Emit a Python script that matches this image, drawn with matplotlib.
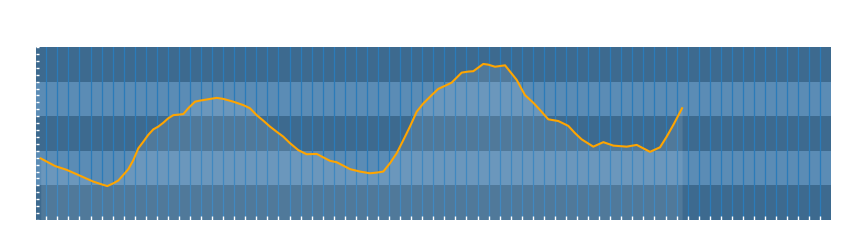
import matplotlib
matplotlib.use("Agg")
import matplotlib.pyplot as plt
import numpy as np

# Werte (x in Rasterschritten, y in Bandeinheiten)
x_vals = [-0.5, 0.79, 1.84, 3.05, 4.25, 5.01, 5.52, 6.06, 6.51, 6.96, 7.42, 7.87,
          8.32, 8.77, 9.22, 9.68, 10.13, 10.58, 11.03, 11.49, 12.39, 12.84, 13.45,
          13.90, 14.65, 15.41, 16.01, 16.91, 17.82, 18.42, 19.03, 19.63, 20.23,
          20.84, 21.43, 22.04, 22.79, 23.55, 24.45, 25.66, 26.26, 27.47, 28.37,
          29.27, 29.88, 30.48, 31.08, 31.69, 32.29, 32.89, 33.50, 34.10, 34.86,
          35.45, 36.21, 36.66, 37.57, 38.17, 38.62, 39.52, 39.97, 40.58, 41.49,
          41.94, 42.54, 43.29, 44.04, 44.65, 45.40, 46.31, 47.21, 47.82, 48.42,
          49.47, 50.38, 51.28, 52.49, 53.40, 54.60, 55.50, 56.11, 56.71, 57.5]
y_vals = [1.78, 1.56, 1.45, 1.28, 1.11, 1.03, 0.98, 1.06, 1.14, 1.30, 1.47, 1.73,
          2.07, 2.26, 2.46, 2.62, 2.70, 2.81, 2.94, 3.03, 3.06, 3.23, 3.42,
          3.45, 3.49, 3.53, 3.50, 3.42, 3.32, 3.23, 3.03, 2.87, 2.70,
          2.55, 2.41, 2.22, 2.02, 1.90, 1.91, 1.71, 1.67, 1.47, 1.40,
          1.35, 1.37, 1.40, 1.64, 1.93, 2.31, 2.70, 3.13, 3.37, 3.61,
          3.79, 3.90, 3.97, 4.26, 4.29, 4.30, 4.51, 4.49, 4.43, 4.47,
          4.29, 4.05, 3.61, 3.39, 3.18, 2.91, 2.86, 2.72, 2.51, 2.33,
          2.12, 2.25, 2.15, 2.12, 2.17, 1.97, 2.10, 2.41, 2.75, 3.23]

n_bands = 5
n_cols = 71

fig = plt.figure(figsize=(8.5, 2.5), dpi=100)
ax = fig.add_axes([36 / 850, 30 / 250, 794.7 / 850, 173 / 250])

# Hintergrundbänder
dark = "#3d6a8f"
light = "#5b8cb5"
for i in range(n_bands):
    ax.axhspan(i, i + 1, color=dark if i % 2 == 0 else light, lw=0, zorder=0)

# vertikale Rasterlinien
for c in range(n_cols):
    ax.axvline(c, color="#2b7bb9", lw=0.9, zorder=1)

# Fläche unter der Kurve
ax.fill_between(x_vals, y_vals, 0, color="white", alpha=0.1, lw=0, zorder=2)
ax.plot(x_vals, y_vals, color="orange", lw=1.5, zorder=3)

ax.set_xlim(-0.93, 70.94)
ax.set_ylim(0, n_bands)

ax.set_xticks(np.arange(n_cols))
ax.set_yticks(np.arange(0, n_bands + 0.01, 0.2))
ax.tick_params(axis="x", direction="in", length=3, width=1.0, color="white",
               labelbottom=False)
ax.tick_params(axis="y", direction="in", length=2.2, width=1.0, color="white",
               labelleft=False)
for s in ax.spines.values():
    s.set_visible(False)

fig.savefig("out.png", dpi=100)
